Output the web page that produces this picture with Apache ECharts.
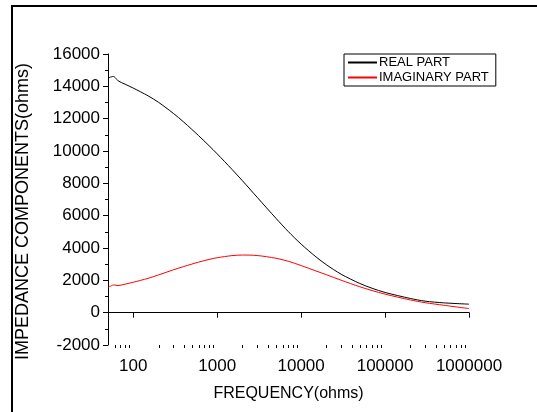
<!DOCTYPE html>
<html>
<head>
<meta charset="utf-8">
<script src="https://cdn.jsdelivr.net/npm/echarts@6/dist/echarts.min.js"></script>
<style>
  html, body { margin: 0; padding: 0; background: #fff; }
  #main { width: 537px; height: 412px; }
</style>
</head>
<body>
<div id="main"></div>
<script>
// frequency samples
var freq = [50, 55, 58, 62, 66, 80, 100, 150, 200, 300, 400, 600, 800, 1000, 1500, 2000, 3000,
            5000, 7000, 10000, 15000, 20000, 30000, 50000, 70000, 100000, 200000, 300000, 500000, 1000000];
var realPart = [14510, 14590, 14610, 14500, 14340, 14130, 13890, 13414, 13011, 12330, 11786, 10950, 10325, 9824, 8864, 8158, 7131,
                5843, 5026, 4240, 3454, 2965, 2377, 1807, 1510, 1250, 879, 712, 607, 526];
var imagPart = [1578, 1665, 1715, 1696, 1677, 1764, 1882, 2123, 2334, 2649, 2854, 3126, 3293, 3398, 3528, 3565, 3534,
                3367, 3182, 2915, 2581, 2346, 2006, 1603, 1368, 1145, 786, 619, 458, 254];
var xMinorTicks = [60, 70, 80, 90, 200, 300, 400, 500, 600, 700, 800, 900,
                   2000, 3000, 4000, 5000, 6000, 7000, 8000, 9000,
                   20000, 30000, 40000, 50000, 60000, 70000, 80000, 90000,
                   200000, 300000, 400000, 500000, 600000, 700000, 800000, 900000];

var FONT = 'Liberation Sans, Arial, sans-serif';

var myChart = echarts.init(document.getElementById('main'));

function pairs(vals) {
    return freq.map(function (f, i) { return [f, vals[i]]; });
}

var option = {
    animation: false,
    backgroundColor: '#fff',
    textStyle: { fontFamily: FONT, color: '#000' },
    grid: { left: 108, right: 68, top: 54, bottom: 67 },
    legend: {
        orient: 'vertical',
        left: 344, top: 54,
        padding: [2, 7, 2, 3],
        itemGap: 2,
        itemWidth: 29, itemHeight: 14,
        borderColor: '#000', borderWidth: 1,
        itemStyle: { opacity: 0 },
        textStyle: { fontFamily: FONT, fontSize: 13, color: '#000', padding: [0, 0, 0, -3] },
        data: ['REAL PART', 'IMAGINARY PART']
    },
    xAxis: {
        type: 'log',
        logBase: 10,
        min: 50, max: 1000000,
        name: 'FREQUENCY(ohms)',
        nameLocation: 'middle',
        nameGap: 41,
        nameTextStyle: { fontFamily: FONT, fontSize: 16, color: '#000' },
        axisLine: { lineStyle: { color: '#000', width: 1 } },
        axisTick: { inside: false, length: 5, lineStyle: { color: '#000' } },
        axisLabel: {
            fontFamily: FONT, fontSize: 17, color: '#000', margin: 13,
            formatter: function (v) { v = Math.round(v); return v >= 100 ? String(v) : ''; }
        },
        splitLine: { show: false }
    },
    yAxis: {
        type: 'value',
        min: -2000, max: 16000, interval: 2000,
        name: 'IMPEDANCE COMPONENTS(ohms)',
        nameLocation: 'middle',
        nameGap: 76,
        nameTextStyle: { fontFamily: FONT, fontSize: 18, color: '#000', padding: [0, 24, 0, 0] },
        axisLine: { show: true, lineStyle: { color: '#000', width: 1 } },
        axisTick: { show: true, inside: false, length: 5, lineStyle: { color: '#000' } },
        minorTick: { show: true, splitNumber: 2, length: 3, lineStyle: { color: '#000' } },
        axisLabel: {
            fontFamily: FONT, fontSize: 17, color: '#000', margin: 8,
            formatter: function (v) { return String(v); }
        },
        splitLine: { show: false }
    },
    series: [
        {
            name: 'REAL PART',
            type: 'line',
            data: pairs(realPart),
            smooth: 0.3,
            symbol: 'none',
            lineStyle: { color: '#000', width: 1 },
            itemStyle: { color: '#000' }
        },
        {
            name: 'IMAGINARY PART',
            type: 'line',
            data: pairs(imagPart),
            smooth: 0.3,
            symbol: 'none',
            lineStyle: { color: '#ff0000', width: 1 },
            itemStyle: { color: '#ff0000' }
        },
        {
            // minor ticks of the log axis at 2..9 of each decade
            name: 'minor',
            type: 'custom',
            silent: true,
            clip: false,
            data: xMinorTicks.map(function (f) { return [f, -2000]; }),
            renderItem: function (params, api) {
                var p = api.coord([api.value(0), api.value(1)]);
                var x = Math.round(p[0]) + 0.5;
                return {
                    type: 'line',
                    shape: { x1: x, y1: p[1], x2: x, y2: p[1] + 3 },
                    style: { stroke: '#000', lineWidth: 1 }
                };
            }
        }
    ],
    graphic: [
        {
            type: 'rect',
            shape: { x: 12, y: 6, width: 700, height: 600 },
            style: { fill: null, stroke: '#000', lineWidth: 2 },
            silent: true
        }
    ]
};

myChart.setOption(option);
</script>
</body>
</html>
